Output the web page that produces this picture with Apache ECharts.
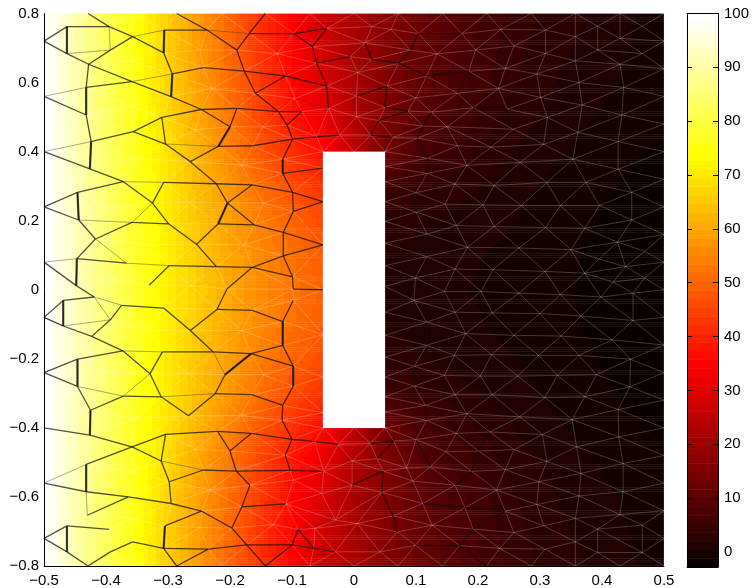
<!DOCTYPE html>
<html><head><meta charset="utf-8">
<style>html,body{margin:0;padding:0;background:#fff}#c{width:752px;height:588px}</style>
<script src="https://cdn.jsdelivr.net/npm/echarts@6/dist/echarts.min.js"></script>
</head><body><div id="c"></div>
<script>
// ---------- tick labels ----------
const xTicks=[-0.5,-0.4,-0.3,-0.2,-0.1,0,0.1,0.2,0.3,0.4,0.5];
const yTicks=[-0.8,-0.6,-0.4,-0.2,0,0.2,0.4,0.6,0.8];
const colorbarTicks=[0,10,20,30,40,50,60,70,80,90,100];
const colorMin=-2.8, colorMax=100;
// ---------- temperature ----------
const fieldX=[-0.5,-0.45,-0.4,-0.35,-0.3,-0.25,-0.2,-0.15,-0.1,-0.05,0,0.05,0.1,0.15,0.2,0.25,0.3,0.35,0.4,0.45,0.5];
const fieldY=[0.8,0.7,0.6,0.5,0.4,0.3,0.2,0.1,0,-0.1,-0.2,-0.3,-0.4,-0.5,-0.6,-0.7,-0.8];
const rowP08=[100,91,82,74,66,58,50,42,35,27,22,17,13,9.5,7,5,3.5,2.5,1.5,0.5,0];
const rowP07=[100,91,82.5,74.5,66.5,58.5,50.5,42.5,35.5,28,22,16,12,9,6.5,4.5,3,2,1.2,0.3,-0.2];
const rowP06=[100,91.5,83,75,67,59,51,43.5,36,29.5,22,16,11.5,8.5,6,4,2.5,1.5,0.8,0,-0.6];
const rowP05=[100,92,83.5,75.5,68,60,52.5,45,38,31.5,23,16,10.5,7,5,3,2,1,0.2,-0.3,-1];
const rowP04=[100,92,84,76,69,62,55,48,42,36.5,25,14,8,5.5,3.5,2.2,1,0.3,-0.3,-1,-1.5];
const rowP03=[100,92.5,84.5,76.5,70,63.5,57.5,51.5,46.5,42.5,null,6,4.5,3,2,1,0.4,-0.3,-0.9,-1.6,-2];
const rowP02=[100,92.5,85,77,70.5,64.5,59,54,50,46,null,3,2.2,1.5,1,0.5,-0.1,-0.7,-1.3,-2,-2.3];
const rowP01=[100,92.5,85,77.5,71,65.5,60,55.5,52,48.5,null,2,1.5,1,0.5,0.1,-0.4,-1,-1.6,-2.2,-2.5];
const rowZ00=[100,92.5,85,77.5,71,66,60.5,56,52.5,50,null,1.5,1,0.7,0.3,0,-0.5,-1.1,-1.8,-2.3,-2.6];
const rowN01=[100,92.5,85,77.5,71,65.5,60,55.5,52,48.5,null,2,1.5,1,0.5,0.1,-0.4,-1,-1.6,-2.2,-2.5];
const rowN02=[100,92.5,85,77,70.5,64.5,59,54,50,46,null,3,2.2,1.5,1,0.5,-0.1,-0.7,-1.3,-2,-2.3];
const rowN03=[100,92.5,84.5,76.5,70,63.5,57.5,51.5,46.5,42.5,null,6,4.5,3,2,1,0.4,-0.3,-0.9,-1.6,-2];
const rowN04=[100,92,84,76,69,62,55,48,42,36.5,25,14,8,5.5,3.5,2.2,1,0.3,-0.3,-1,-1.5];
const rowN05=[100,92,83.5,75.5,68,60,52.5,45,38,31.5,23,16,10.5,7,5,3,2,1,0.2,-0.3,-1];
const rowN06=[100,91.5,83,75,67,59,51,43.5,36,29.5,22,16,11.5,8.5,6,4,2.5,1.5,0.8,0,-0.6];
const rowN07=[100,91,82.5,74.5,66.5,58.5,50.5,42.5,35.5,28,22,16,12,9,6.5,4.5,3,2,1.2,0.3,-0.2];
const rowN08=[100,91,82,74,66,58,50,42,35,27,22,17,13,9.5,7,5,3.5,2.5,1.5,0.5,0];
const fieldRows=[rowP08,rowP07,rowP06,rowP05,rowP04,rowP03,rowP02,rowP01,rowZ00,rowN01,rowN02,rowN03,rowN04,rowN05,rowN06,rowN07,rowN08];
const holeBox=[[-0.05,0.05,-0.4,0.4]];
// ---------- mesh nodes (x,y) ----------
const meshNodes=[
// 0-14 top edge
[-.5,.8],[-.429,.8],[-.357,.8],[-.286,.8],[-.214,.8],[-.143,.8],[-.071,.8],[0,.8],[.071,.8],[.143,.8],[.214,.8],[.286,.8],[.357,.8],[.429,.8],[.5,.8],
// 15-29 bottom edge
[-.5,-.8],[-.429,-.8],[-.357,-.8],[-.286,-.8],[-.214,-.8],[-.143,-.8],[-.071,-.8],[0,-.8],[.071,-.8],[.143,-.8],[.214,-.8],[.286,-.8],[.357,-.8],[.429,-.8],[.5,-.8],
// 30-39 left edge
[-.5,.72],[-.5,.56],[-.5,.4],[-.5,.24],[-.5,.08],[-.5,-.08],[-.5,-.24],[-.5,-.4],[-.5,-.56],[-.5,-.72],
// 40-58 right edge
[.5,.72],[.5,.64],[.5,.56],[.5,.48],[.5,.4],[.5,.32],[.5,.24],[.5,.16],[.5,.08],[.5,0],[.5,-.08],[.5,-.16],[.5,-.24],[.5,-.32],[.5,-.4],[.5,-.48],[.5,-.56],[.5,-.64],[.5,-.72],
// 59-67 notch left
[-.05,.4],[-.05,.352],[-.05,.255],[-.05,.13],[-.05,0],[-.05,-.13],[-.05,-.253],[-.05,-.356],[-.05,-.4],
// 68-82 notch right
[.05,.4],[.05,.357],[.05,.313],[.05,.255],[.05,.198],[.05,.135],[.05,.07],[.05,.01],[.05,-.065],[.05,-.132],[.05,-.195],[.05,-.253],[.05,-.31],[.05,-.354],[.05,-.4],
// 83-173 upper left
[-.463,.762],[-.395,.762],[-.463,.684],[-.393,.694],[-.428,.653],[-.357,.733],[-.357,.662],[-.358,.603],[-.306,.752],[-.307,.686],
[-.293,.625],[-.295,.559],[-.237,.752],[-.169,.742],[-.097,.742],[-.044,.757],[-.189,.694],[-.124,.684],[-.067,.704],[-.243,.643],
[-.177,.633],[-.11,.619],[-.06,.656],[-.006,.675],[-.432,.586],[-.229,.583],[-.159,.569],[-.095,.554],[-.044,.59],[-.432,.506],
[-.31,.499],[-.246,.522],[-.189,.525],[-.122,.516],[-.084,.516],[-.041,.525],[-.356,.458],[-.424,.429],[-.304,.422],[-.2,.472],
[-.147,.472],[-.108,.477],[-.099,.436],[-.06,.443],[-.023,.448],[-.219,.415],[-.163,.417],[-.426,.35],[-.352,.381],[-.264,.371],
[-.181,.361],[-.115,.378],[-.115,.337],[-.372,.313],[-.307,.311],[-.222,.307],[-.164,.304],[-.099,.282],[-.446,.282],[-.325,.251],
[-.265,.253],[-.204,.251],[-.146,.251],[-.098,.227],[-.444,.202],[-.358,.195],[-.299,.191],[-.219,.191],[-.161,.188],[-.114,.166],
[-.417,.147],[-.254,.132],[-.178,.13],[-.114,.098],[-.447,.09],[-.367,.077],[-.298,.07],[-.222,.067],[-.164,.065],[-.099,.037],
[-.448,.012],[-.33,.014],[-.205,.002],[-.098,.002],[-.264,.012],[-.397,.236],[-.357,.53],[-.256,.463],[-.248,.694],[-.329,.13],[-.388,.03],
// 174-274 upper right
[.029,.762],[.06,.754],[.104,.742],[.174,.742],[.237,.754],[.309,.752],[.357,.733],[.393,.763],[.465,.763],[.018,.715],
[.091,.694],[.196,.694],[.258,.706],[.309,.684],[.393,.694],[.465,.684],[.429,.728],[.072,.656],[.029,.667],[.134,.683],
[.244,.641],[.295,.625],[.357,.663],[.429,.653],[.006,.629],[.117,.619],[.185,.633],[.363,.6],[.435,.586],[.053,.59],
[.167,.569],[.233,.583],[.301,.557],[.368,.535],[.004,.561],[.1,.556],[.05,.528],[.087,.518],[.192,.527],[.247,.523],
[.312,.499],[.432,.506],[.004,.501],[.04,.49],[.125,.514],[.15,.472],[.257,.465],[.361,.456],[.027,.448],[.063,.441],
[.111,.474],[.102,.439],[.167,.417],[.221,.413],[.306,.421],[.426,.429],[.119,.381],[.182,.36],[.268,.369],[.353,.378],
[.426,.349],[.118,.337],[.163,.306],[.226,.302],[.311,.311],[.374,.311],[.448,.282],[.1,.281],[.147,.248],[.208,.246],
[.27,.244],[.333,.244],[.396,.244],[.1,.225],[.165,.186],[.226,.183],[.309,.18],[.372,.178],[.448,.202],[.118,.161],
[.183,.123],[.266,.121],[.35,.116],[.425,.138],[.117,.096],[.395,.089],[.469,.111],[.438,.067],[.099,.034],[.163,.06],
[.224,.058],[.308,.053],[.372,.048],[.418,.022],[.469,.034],[.146,-.005],[.205,-.005],[.266,-.01],[.333,-.014],[.398,-.021],[.45,-.01],
// 275-361 lower right
[.097,-.031],[.163,-.065],[.223,-.067],[.3,-.069],[.366,-.076],[.45,-.089],[.117,-.094],[.18,-.127],[.258,-.132],[.334,-.134],
[.416,-.145],[.117,-.161],[.162,-.19],[.222,-.188],[.298,-.19],[.363,-.19],[.446,-.201],[.097,-.222],[.146,-.248],[.204,-.25],
[.264,-.25],[.328,-.248],[.391,-.246],[.097,-.279],[.163,-.304],[.223,-.304],[.308,-.312],[.372,-.31],[.445,-.281],[.115,-.335],
[.182,-.359],[.267,-.368],[.352,-.376],[.426,-.347],[.117,-.378],[.165,-.416],[.219,-.412],[.304,-.419],[.427,-.426],[.026,-.445],
[.064,-.438],[.1,-.434],[.148,-.469],[.201,-.467],[.258,-.463],[.359,-.455],[-.003,-.496],[.037,-.489],[.085,-.516],[.123,-.513],
[.19,-.526],[.244,-.521],[.311,-.497],[.434,-.503],[.047,-.525],[.095,-.554],[.163,-.566],[.23,-.58],[.298,-.556],[.366,-.532],
[-.003,-.566],[.045,-.587],[.111,-.619],[.179,-.631],[.244,-.641],[.295,-.622],[.363,-.597],[.434,-.585],[.063,-.655],[.126,-.682],
[.192,-.693],[.306,-.684],[.357,-.662],[.429,-.651],[.005,-.677],[.07,-.701],[.258,-.703],[.393,-.693],[.465,-.682],[.042,-.759],
[.099,-.74],[.17,-.741],[.235,-.749],[.308,-.751],[.357,-.73],[.393,-.761],[.465,-.761],
// 362-448 lower left
[-.469,-.031],[-.419,-.021],[-.469,-.105],[-.393,-.087],[-.423,-.135],[-.375,-.045],[-.307,-.053],[-.264,-.118],[-.221,-.057],[-.164,-.06],
[-.115,-.092],[-.098,-.031],[-.115,-.161],[-.373,-.177],[-.309,-.18],[-.227,-.18],[-.166,-.185],[-.446,-.201],[-.329,-.243],[-.446,-.28],
[-.372,-.308],[-.311,-.31],[-.208,-.246],[-.224,-.301],[-.165,-.304],[-.098,-.221],[-.098,-.279],[-.115,-.335],[-.267,-.365],[-.425,-.349],
[-.353,-.373],[-.426,-.421],[-.304,-.419],[-.22,-.41],[-.166,-.416],[-.116,-.378],[-.1,-.433],[-.358,-.455],[-.311,-.496],[-.432,-.506],
[-.2,-.467],[-.19,-.525],[-.243,-.522],[-.298,-.556],[-.168,-.566],[-.432,-.585],[-.364,-.6],[-.295,-.619],[-.246,-.641],[-.181,-.629],
[-.43,-.653],[-.463,-.684],[-.395,-.694],[-.305,-.684],[-.197,-.69],[-.09,-.694],[-.463,-.759],[-.393,-.759],[-.357,-.73],[-.307,-.749],
[-.235,-.751],[-.173,-.739],[-.1,-.739],[-.13,-.68],[-.11,-.62],[-.052,-.59],[-.03,-.667],[-.103,-.523],[-.049,-.526],[-.063,-.44],
[-.025,-.448],[-.111,-.479],[-.098,-.551],[-.232,-.58],[-.03,-.759],[-.065,-.749],[-.063,-.691],[-.181,-.364],[-.146,-.246],[-.267,-.243],
[-.181,-.118],[-.329,-.118],[-.399,-.238],[-.256,-.462],[-.358,-.527],[-.248,-.688],[-.357,-.662],
// 449-450 notch mid
[0,.4],[0,-.4]
];
// dark edges of the mesh, as node index pairs
const darkEdges=[
30,83,83,85,30,85,85,87,87,86,83,84,84,1,86,88,84,88,88,92,91,92,91,95,3,95,92,93,93,94,93,102,102,103,103,104,87,107,107,112,107,90,87,90,90,94,94,114,114,115,115,116,116,117,117,124,115,122,122,128,128,129,129,125,125,124,124,116,125,126,126,127,111,118,111,105,105,101,101,98,97,98,96,97,96,99,5,96,99,103,103,109,109,104,104,111,109,116,105,106,95,99,97,101,
112,120,120,130,130,136,31,112,32,130,120,119,119,113,113,114,113,121,119,121,121,132,132,138,132,128,114,122,136,142,142,137,137,138,138,139,139,144,138,144,144,150,150,154,149,154,154,160,142,149,148,149,147,153,153,148,153,157,141,147,33,141,33,147,141,136,157,163,157,158,34,163,159,160,160,161,161,156,156,162,161,162,152,156,151,152,150,151,152,62,156,62,135,134,134,125,135,140,140,139,140,146,140,61,146,152,146,61,135,60,144,151,159,164,162,166,166,63,165,161,
362,35,362,364,35,364,364,366,366,365,365,367,362,363,363,163,367,368,368,369,369,377,369,370,370,371,370,165,371,372,372,374,372,373,374,378,374,387,387,388,388,389,389,386,386,385,377,378,378,384,384,385,385,390,390,383,383,382,376,380,380,383,376,377,375,366,375,380,379,381,36,379,36,381,381,391,391,382,391,393,393,399,37,393,399,394,394,395,395,396,395,402,402,403,403,404,404,405,405,400,400,394,399,400,405,409,409,408,408,407,407,401,401,399,38,407,408,412,410,409,410,415,415,421,421,420,420,419,421,422,422,423,423,424,39,413,413,418,39,418,418,16,413,414,419,16,416,410,416,411,411,406,406,403,416,423,411,426,424,20,424,417,389,397,397,398,396,398,398,431,431,432,398,433,433,429,429,403,429,430,396,402,375,379,378,387,422,18,421,18,423,20,424,436,417,437,
183,192,192,191,184,191,176,184,176,177,191,199,199,200,200,204,203,208,203,210,210,211,217,211,217,222,222,223,224,225,225,230,230,235,241,247,253,258,218,224,212,213,220,213,
314,315,322,315,329,336,335,329,336,343,343,350,337,338,338,339,339,345,345,356,356,25,355,356,316,324,325,318,318,311,325,331,304,309,292,298,281,286,346,358
];
// heavier dark edges
const heavyEdges=[83,85,91,92,93,94,107,112,120,130,141,147,157,163,134,135,122,128,144,150,362,364,379,381,391,393,401,407,415,421,413,418,372,374,387,388,378,384];
// thin greyish edges
const midEdges=[88,91,85,86,90,93,84,86,31,107,95,96,121,128,32,120,136,137,142,148,34,157,158,159,153,158,110,118,147,148,
364,365,363,367,363,365,375,376,380,382,381,382,377,384,383,385,400,404,38,401,407,412,417,428,35,364];
// ---------- hot colour map, 64 steps ----------
function hot(t){
  if(t==null) t=colorMin;
  const i=Math.max(0,Math.min(63,Math.floor((t-colorMin)/(colorMax-colorMin)*64)))+1;
  const c=v=>Math.round(255*Math.max(0,Math.min(1,v)));
  return 'rgb('+c(i/24)+','+c((i-24)/24)+','+c((i-48)/16)+')';
}
function fieldAt(x,y,r){
  const dx=fieldX[1]-fieldX[0];
  let c=Math.min(fieldX.length-2,Math.floor((x-fieldX[0])/dx+1e-9));
  const u=(x-fieldX[c])/dx, v=(fieldY[r]-y)/(fieldY[r]-fieldY[r+1]);
  const g=(a,b)=>{const q=fieldRows[a][b];return q==null?0:q;};
  return (1-v)*((1-u)*g(r,c)+u*g(r,c+1))+v*((1-u)*g(r+1,c)+u*g(r+1,c+1));
}
// ---------- triangulate the nodes to get the light mesh edges ----------
function triangulate(pts){
  const n=pts.length;
  const P=pts.map(([x,y])=>[x*(1-1e-4*y*y),y*(1-1e-4*x*x)]).concat([[-1000,-1000],[1000,-1000],[0,1000]]);
  const circ=(a,b,c)=>{
    const [ax,ay]=P[a],[bx,by]=P[b],[cx,cy]=P[c];
    const d=2*(ax*(by-cy)+bx*(cy-ay)+cx*(ay-by));
    const s=ax*ax+ay*ay,t=bx*bx+by*by,w=cx*cx+cy*cy;
    const ux=(s*(by-cy)+t*(cy-ay)+w*(ay-by))/d, uy=(s*(cx-bx)+t*(ax-cx)+w*(bx-ax))/d;
    return {a,b,c,ux,uy,r:(ax-ux)*(ax-ux)+(ay-uy)*(ay-uy)};
  };
  let tris=[circ(n,n+1,n+2)];
  for(let i=0;i<n;i++){
    const [px,py]=P[i]; const keep=[]; const cnt=new Map();
    for(const t of tris){
      if((px-t.ux)*(px-t.ux)+(py-t.uy)*(py-t.uy)<t.r){
        for(const [p,q] of [[t.a,t.b],[t.b,t.c],[t.c,t.a]]){
          const k=Math.min(p,q)+'_'+Math.max(p,q); cnt.set(k,(cnt.get(k)||0)+1);
        }
      } else keep.push(t);
    }
    for(const [k,v] of cnt){ if(v===1){ const [p,q]=k.split('_').map(Number); keep.push(circ(p,q,i)); } }
    tris=keep;
  }
  const edges=new Set();
  for(const t of tris){
    for(const [p,q] of [[t.a,t.b],[t.b,t.c],[t.c,t.a]]){
      if(p<n&&q<n) edges.add(Math.min(p,q)+'_'+Math.max(p,q));
    }
  }
  return [...edges].map(k=>k.split('_').map(Number));
}
const inHole=(x,y)=>Math.abs(x)<holeBox[0][1]-1e-3&&Math.abs(y)<holeBox[0][3]-1e-3;
const usedKeys=new Set();
const toSegments=list=>{
  const out=[];
  for(let i=0;i<list.length;i+=2){
    const a=list[i],b=list[i+1];
    usedKeys.add(Math.min(a,b)+'_'+Math.max(a,b));
    out.push([meshNodes[a][0],meshNodes[a][1],meshNodes[b][0],meshNodes[b][1]]);
  }
  return out;
};
const darkSegments=toSegments(darkEdges);
const heavySegments=toSegments(heavyEdges);
const midSegments=toSegments(midEdges);
const lightSegments=triangulate(meshNodes)
  .filter(([a,b])=>!usedKeys.has(a+'_'+b)&&!inHole((meshNodes[a][0]+meshNodes[b][0])/2,(meshNodes[a][1]+meshNodes[b][1])/2))
  .map(([a,b])=>[meshNodes[a][0],meshNodes[a][1],meshNodes[b][0],meshNodes[b][1]]);

const fontFamily='"Liberation Sans",Arial,sans-serif';
const fmt=v=>{const n=Number(v.toFixed(1));return n===0?'0':String(n).replace('-','\u2212');};
const colorbarLevels=[];
for(let i=0;i<64;i++){
  const lo=colorMin+i*(colorMax-colorMin)/64, hi=colorMin+(i+1)*(colorMax-colorMin)/64;
  colorbarLevels.push([lo,hi]);
}
const segRender=(style)=>(p,api)=>{
  const s=api.coord([api.value(0),api.value(1)]), e=api.coord([api.value(2),api.value(3)]);
  return {type:'line',shape:{x1:s[0],y1:s[1],x2:e[0],y2:e[1]},style:style};
};
const segSeries=(name,z,data,stroke,lineWidth)=>({type:'custom',name,xAxisIndex:0,yAxisIndex:0,z,silent:true,data,encode:{x:[0,2],y:[1,3]},
  renderItem:segRender({stroke,lineWidth,fill:null})});
const rowIntervals=fieldY.slice(0,-1).map((y,i)=>[i]);
const chart=echarts.init(document.getElementById('c'),null,{renderer:'canvas'});
chart.setOption({
  animation:false,
  backgroundColor:'#fff',
  grid:[{left:44,top:13.5,width:620,height:553.5},{left:687,top:13.5,width:32,height:553.5}],
  xAxis:[
    {type:'value',gridIndex:0,min:-0.5,max:0.5,interval:0.1,z:10,splitLine:{show:false},
     axisLine:{show:true,onZero:false,lineStyle:{color:'#000',width:1}},axisTick:{show:false},
     axisLabel:{color:'#000',fontSize:15,fontFamily,margin:7,showMinLabel:true,showMaxLabel:true,formatter:fmt}},
    {type:'value',gridIndex:1,min:0,max:1,position:'bottom',z:10,splitLine:{show:false},axisLine:{show:true,onZero:false,lineStyle:{color:'#000'}},axisTick:{show:false},axisLabel:{show:false}},
    {type:'value',gridIndex:1,min:0,max:1,position:'top',z:10,splitLine:{show:false},axisLine:{show:true,onZero:false,lineStyle:{color:'#000'}},axisTick:{show:false},axisLabel:{show:false}}
  ],
  yAxis:[
    {type:'value',gridIndex:0,min:-0.8,max:0.8,interval:0.2,z:10,splitLine:{show:false},
     axisLine:{show:true,onZero:false,lineStyle:{color:'#000',width:1}},axisTick:{show:false},
     axisLabel:{color:'#000',fontSize:15,fontFamily,margin:5,showMinLabel:true,showMaxLabel:true,formatter:fmt}},
    {type:'value',gridIndex:1,min:colorMin,max:colorMax,position:'right',z:10,splitLine:{show:false},
     axisLine:{show:true,onZero:false,lineStyle:{color:'#000'}},
     axisTick:{show:true,inside:true,length:5,lineStyle:{color:'#000'},customValues:colorbarTicks},
     axisLabel:{color:'#000',fontSize:15,fontFamily,margin:6,customValues:colorbarTicks,formatter:v=>String(v)}},
    {type:'value',gridIndex:1,min:colorMin,max:colorMax,position:'left',z:10,splitLine:{show:false},
     axisLine:{show:true,onZero:false,lineStyle:{color:'#000'}},
     axisTick:{show:true,inside:true,length:5,lineStyle:{color:'#000'},customValues:colorbarTicks},
     axisLabel:{show:false}}
  ],
  series:[
    {type:'custom',name:'temperature',xAxisIndex:0,yAxisIndex:0,z:1,silent:true,data:rowIntervals,encode:{x:[],y:[]},
     renderItem:(p,api)=>{
       const r=api.value(0), children=[];
       const y0=fieldY[r], y1=fieldY[r+1];
       const xa=fieldX[0], xb=fieldX[fieldX.length-1];
       const L=api.coord([xa,y0])[0], R=api.coord([xb,y0])[0];
       const top=api.coord([xa,y0])[1], bot=api.coord([xa,y1])[1];
       const strips=Math.ceil((bot-top)/2), samples=155;
       for(let s=0;s<strips;s++){
         const yy=y0+(y1-y0)*(s+0.5)/strips;
         const stops=[];
         for(let k=0;k<samples;k++){
           const col=hot(fieldAt(xa+(xb-xa)*(k+0.5)/samples,yy,r));
           stops.push({offset:k/samples,color:col},{offset:(k+1)/samples,color:col});
         }
         const sy=top+(bot-top)*s/strips, ey=top+(bot-top)*(s+1)/strips;
         children.push({type:'rect',shape:{x:L,y:sy,width:R-L,height:ey-sy+0.5},
           style:{fill:new echarts.graphic.LinearGradient(0,0,1,0,stops)}});
       }
       return {type:'group',children};
     }},
    segSeries('mesh light',2,lightSegments,'rgba(255,255,255,0.3)',0.7),
    segSeries('mesh mid',3,midSegments,'rgba(60,60,60,0.55)',0.8),
    segSeries('mesh dark',4,darkSegments,'rgba(15,15,15,0.72)',1.3),
    segSeries('mesh heavy',5,heavySegments,'rgba(15,15,15,0.7)',2.2),
    {type:'custom',name:'notch',xAxisIndex:0,yAxisIndex:0,z:6,silent:true,data:holeBox,encode:{x:[0,1],y:[2,3]},
     renderItem:(p,api)=>{
       const a=api.coord([api.value(0),api.value(3)]), b=api.coord([api.value(1),api.value(2)]);
       return {type:'rect',shape:{x:a[0],y:a[1],width:b[0]-a[0],height:b[1]-a[1]},style:{fill:'#fff'}};
     }},
    {type:'custom',name:'colorbar',xAxisIndex:1,yAxisIndex:1,z:1,silent:true,data:colorbarLevels,encode:{y:[0,1]},
     renderItem:(p,api)=>{
       const lo=api.value(0), hi=api.value(1);
       const a=api.coord([0,hi]), b=api.coord([1,lo]);
       return {type:'rect',shape:{x:a[0],y:a[1],width:b[0]-a[0],height:b[1]-a[1]+0.5},style:{fill:hot((lo+hi)/2)}};
     }}
  ]
});
</script></body></html>
